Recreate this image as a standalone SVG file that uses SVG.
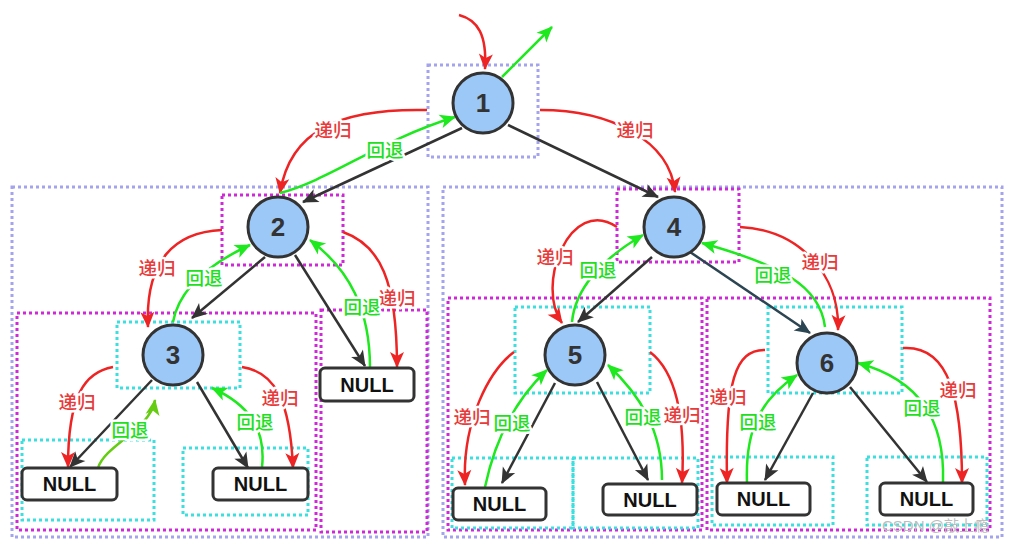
<svg xmlns="http://www.w3.org/2000/svg" width="1016" height="544" viewBox="0 0 1016 544">
<defs>
<style>
.lav{fill:none;stroke:#a3a3ee;stroke-width:3;stroke-dasharray:3 3}
.mag{fill:none;stroke:#d028d8;stroke-width:3;stroke-dasharray:3 3}
.cya{fill:none;stroke:#3ae0e0;stroke-width:3;stroke-dasharray:3 3}
.blk{fill:none;stroke:#333;stroke-width:2.5}
.slt{fill:none;stroke:#2c4552;stroke-width:2.5}
.red{fill:none;stroke:#ee2424;stroke-width:2.5}
.grn{fill:none;stroke:#1ee81e;stroke-width:2.5}
.ygr{fill:none;stroke:#66cc11;stroke-width:2.5}
.node circle{fill:#9cc8f8;stroke:#333;stroke-width:3}
.node text{font-family:"Liberation Sans",Arial,sans-serif;font-weight:bold;font-size:26px;fill:#333;text-anchor:middle}
.null rect{fill:#fff;stroke:#333;stroke-width:3}
.null text{font-family:"Liberation Sans",Arial,sans-serif;font-weight:bold;font-size:20px;fill:#111;text-anchor:middle}
.lr,.lg{font-family:"Noto Sans CJK SC","Noto Sans",sans-serif;font-size:18.5px;font-weight:500;text-anchor:middle;stroke:#fff;stroke-width:5;paint-order:stroke;stroke-linejoin:round}
.lr{fill:#e83a3a}
.lg{fill:#1ee01e}
.wm{font-family:"Liberation Sans","Noto Sans CJK SC",sans-serif;font-size:15px;fill:#bdbdbd}
</style>
<marker id="ab" viewBox="-16 -8 17 16" refX="0" refY="0" markerWidth="17" markerHeight="16" markerUnits="userSpaceOnUse" orient="auto"><path d="M1,0 L-15,-7 L-11,0 L-15,7 Z" fill="#333"/></marker>
<marker id="as" viewBox="-16 -8 17 16" refX="0" refY="0" markerWidth="17" markerHeight="16" markerUnits="userSpaceOnUse" orient="auto"><path d="M1,0 L-15,-7 L-11,0 L-15,7 Z" fill="#2c4552"/></marker>
<marker id="ar" viewBox="-16 -8 17 16" refX="0" refY="0" markerWidth="17" markerHeight="16" markerUnits="userSpaceOnUse" orient="auto"><path d="M1,0 L-15,-7 L-11,0 L-15,7 Z" fill="#ee2424"/></marker>
<marker id="ag" viewBox="-16 -8 17 16" refX="0" refY="0" markerWidth="17" markerHeight="16" markerUnits="userSpaceOnUse" orient="auto"><path d="M1,0 L-15,-7 L-11,0 L-15,7 Z" fill="#1ee81e"/></marker>
<marker id="ay" viewBox="-16 -8 17 16" refX="0" refY="0" markerWidth="17" markerHeight="16" markerUnits="userSpaceOnUse" orient="auto"><path d="M1,0 L-15,-7 L-11,0 L-15,7 Z" fill="#66cc11"/></marker>
</defs>
<rect width="1016" height="544" fill="#fff"/>
<g id="frames">
<rect class="lav" x="428" y="65" width="110" height="92"/>
<rect class="lav" x="12" y="187" width="416" height="350"/>
<rect class="lav" x="443" y="187" width="559" height="350"/>
<rect class="mag" x="222" y="195" width="121" height="70"/>
<rect class="mag" x="17" y="313" width="299" height="217"/>
<rect class="mag" x="321" y="310" width="106" height="222"/>
<rect class="mag" x="617" y="189" width="122" height="73"/>
<rect class="mag" x="448" y="298" width="254" height="232"/>
<rect class="mag" x="707" y="298" width="283" height="232"/>
<rect class="cya" x="117" y="322" width="123" height="66"/>
<rect class="cya" x="22" y="440" width="132" height="80"/>
<rect class="cya" x="183" y="448" width="125" height="67"/>
<rect class="cya" x="515" y="307" width="135" height="86"/>
<rect class="cya" x="452" y="458" width="121" height="70"/>
<rect class="cya" x="573" y="458" width="125" height="70"/>
<rect class="cya" x="768" y="307" width="134" height="86"/>
<rect class="cya" x="712" y="457" width="121" height="68"/>
<rect class="cya" x="867" y="457" width="120" height="68"/>
</g>
<g id="connectors">
<path class="red" d="M459,15 C478,20 487,35 485,69" marker-end="url(#ar)"/>
<path class="grn" d="M502,77 L552,27" marker-end="url(#ag)"/>
<path class="blk" d="M462,128 L303,202" marker-end="url(#ab)"/>
<path class="blk" d="M508,125 L658,197" marker-end="url(#ab)"/>
<path class="red" d="M427,110 C340,108 290,130 280,193" marker-end="url(#ar)"/>
<path class="grn" d="M280,193 C330,180 380,140 455,117" marker-end="url(#ag)"/>
<path class="red" d="M540,110 C610,110 670,140 675,192" marker-end="url(#ar)"/>
<path class="blk" d="M265,257 L192,318" marker-end="url(#ab)"/>
<path class="blk" d="M295,255 L365,366" marker-end="url(#ab)"/>
<path class="red" d="M222,230 C175,232 145,260 148,327" marker-end="url(#ar)"/>
<path class="grn" d="M173,322 C178,295 200,268 250,245" marker-end="url(#ag)"/>
<path class="red" d="M343,232 C380,245 397,280 397,367" marker-end="url(#ar)"/>
<path class="grn" d="M370,368 C370,310 350,270 310,240" marker-end="url(#ag)"/>
<path class="blk" d="M152,380 L70,467" marker-end="url(#ab)"/>
<path class="blk" d="M197,382 L248,468" marker-end="url(#ab)"/>
<path class="red" d="M113,367 C85,372 68,395 68,467" marker-end="url(#ar)"/>
<path class="ygr" d="M98,468 C105,445 150,430 155,400" marker-end="url(#ay)"/>
<path class="red" d="M242,367 C275,372 290,400 293,468" marker-end="url(#ar)"/>
<path class="grn" d="M262,467 C266,430 250,405 212,388" marker-end="url(#ag)"/>
<path class="red" d="M617,227 C570,195 535,285 562,323" marker-end="url(#ar)"/>
<path class="grn" d="M572,322 C575,290 600,260 643,235" marker-end="url(#ag)"/>
<path class="blk" d="M652,257 L578,322" marker-end="url(#ab)"/>
<path class="slt" d="M690,252 L810,333" marker-end="url(#as)"/>
<path class="red" d="M740,227 C800,230 840,275 838,330" marker-end="url(#ar)"/>
<path class="grn" d="M825,327 C820,285 780,265 702,243" marker-end="url(#ag)"/>
<path class="blk" d="M555,383 L502,483" marker-end="url(#ab)"/>
<path class="blk" d="M597,382 L648,480" marker-end="url(#ab)"/>
<path class="red" d="M514,352 C490,370 462,420 465,485" marker-end="url(#ar)"/>
<path class="grn" d="M485,487 C495,440 515,400 547,370" marker-end="url(#ag)"/>
<path class="red" d="M650,352 C680,375 685,430 682,483" marker-end="url(#ar)"/>
<path class="grn" d="M662,480 C662,430 640,395 608,365" marker-end="url(#ag)"/>
<path class="blk" d="M813,393 L765,480" marker-end="url(#ab)"/>
<path class="blk" d="M850,387 L927,482" marker-end="url(#ab)"/>
<path class="red" d="M765,350 C735,350 725,380 727,483" marker-end="url(#ar)"/>
<path class="grn" d="M747,483 C745,430 760,400 797,375" marker-end="url(#ag)"/>
<path class="red" d="M903,348 C950,345 962,400 962,483" marker-end="url(#ar)"/>
<path class="grn" d="M943,482 C945,420 920,380 858,363" marker-end="url(#ag)"/>
<text class="lr" x="333" y="137">递归</text>
<text class="lg" x="385" y="157">回退</text>
<text class="lr" x="635" y="137">递归</text>
<text class="lr" x="157" y="275">递归</text>
<text class="lg" x="204" y="285">回退</text>
<text class="lr" x="397" y="305">递归</text>
<text class="lg" x="362" y="314">回退</text>
<text class="lr" x="77" y="409">递归</text>
<text class="lg" x="130" y="437">回退</text>
<text class="lr" x="280" y="405">递归</text>
<text class="lg" x="255" y="429">回退</text>
<text class="lr" x="555" y="264">递归</text>
<text class="lg" x="598" y="277">回退</text>
<text class="lr" x="820" y="269">递归</text>
<text class="lg" x="773" y="282">回退</text>
<text class="lr" x="472" y="424">递归</text>
<text class="lg" x="512" y="430">回退</text>
<text class="lr" x="682" y="422">递归</text>
<text class="lg" x="643" y="424">回退</text>
<text class="lr" x="728" y="404">递归</text>
<text class="lg" x="758" y="429">回退</text>
<text class="lr" x="958" y="397">递归</text>
<text class="lg" x="922" y="415">回退</text>
</g>
<g id="n1" class="node"><circle cx="483" cy="103" r="30"/><text x="483" y="112">1</text></g>
<g id="n2" class="node"><circle cx="278" cy="227" r="30"/><text x="278" y="236">2</text></g>
<g id="n3" class="node"><circle cx="173" cy="355" r="30"/><text x="173" y="364">3</text></g>
<g id="n4" class="node"><circle cx="674" cy="227" r="30"/><text x="674" y="236">4</text></g>
<g id="n5" class="node"><circle cx="575" cy="355" r="30"/><text x="575" y="364">5</text></g>
<g id="n6" class="node"><circle cx="827" cy="363" r="30"/><text x="827" y="372">6</text></g>
<g id="null1" class="null"><rect x="22" y="468" width="95" height="32" rx="5"/><text x="69.5" y="491">NULL</text></g>
<g id="null2" class="null"><rect x="213" y="468" width="95" height="32" rx="5"/><text x="260.5" y="491">NULL</text></g>
<g id="null3" class="null"><rect x="320" y="368" width="94" height="33" rx="5"/><text x="367" y="392">NULL</text></g>
<g id="null4" class="null"><rect x="453" y="488" width="93" height="32" rx="5"/><text x="499.5" y="511">NULL</text></g>
<g id="null5" class="null"><rect x="603" y="484" width="94" height="31" rx="5"/><text x="650" y="507">NULL</text></g>
<g id="null6" class="null"><rect x="717" y="483" width="93" height="32" rx="5"/><text x="763.5" y="506">NULL</text></g>
<g id="null7" class="null"><rect x="880" y="483" width="93" height="32" rx="5"/><text x="926.5" y="506">NULL</text></g>
<text class="wm" x="882" y="531">CSDN @敲上瘾</text>
</svg>
